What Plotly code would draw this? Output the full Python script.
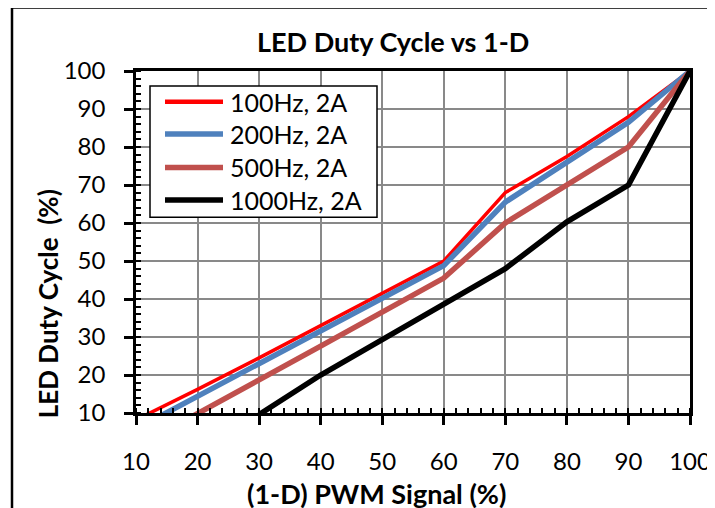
import plotly.graph_objects as go

# ---- data ----
pwm_signal = [10, 20, 30, 40, 50, 60, 70, 80, 90, 100]
duty_100hz = [8.2, 16.2, 24.5, 33.0, 41.5, 50.0, 68.0, 77.5, 88.0, 100]
duty_200hz = [5.8, 14.4, 23.0, 31.6, 40.2, 48.8, 65.5, 76.0, 86.5, 100]
duty_500hz = [1.0, 9.7, 18.7, 27.6, 36.5, 45.5, 60.0, 70.0, 80.0, 100]
duty_1000hz = [None, None, 9.6, 20.0, 29.3, 38.7, 48.0, 60.3, 70.0, 100]

series_names = ["100Hz, 2A", "200Hz, 2A", "500Hz, 2A", "1000Hz, 2A"]
series_values = [duty_100hz, duty_200hz, duty_500hz, duty_1000hz]
series_colors = ["#FF0000", "#4F81BD", "#C0504D", "#000000"]
series_widths = [3.5, 5.5, 5.5, 5.5]

x_ticks = [10, 20, 30, 40, 50, 60, 70, 80, 90, 100]
y_ticks = [10, 20, 30, 40, 50, 60, 70, 80, 90, 100]

# ---- layout geometry ----
# page body has an 8px default margin, so the figure starts at screen (8, 8)
OFF = 8
W, H = 715 - OFF, 508 - OFF
# plot area in screen pixels
SL, SR, ST, SB = 136, 690, 71, 412.7
L, R, T, B = SL - OFF, SR - OFF, ST - OFF, SB - OFF


def xp(px):
    """screen x pixel -> paper"""
    return (px - SL) / (SR - SL)


def yp(py):
    """screen y pixel -> paper"""
    return (SB - py) / (SB - ST)


FONT = "Lato"

fig = go.Figure()
for name, vals, col, lw in zip(series_names, series_values, series_colors, series_widths):
    fig.add_trace(go.Scatter(x=pwm_signal, y=vals, mode="lines", name=name,
                             line=dict(color=col, width=lw), showlegend=False))

axis_common = dict(
    automargin=False,
    showline=True, linecolor="black", linewidth=2.5, mirror=True,
    showgrid=True, gridcolor="#898989", gridwidth=2,
    ticks="outside", ticklen=9, tickwidth=2.5, tickcolor="black",
    tickfont=dict(family=FONT, size=24, color="black"),
    zeroline=False,
    minor=dict(ticks="inside", ticklen=5, tickwidth=1.5, tickcolor="black",
               dtick=2, showgrid=False),
)

fig.update_layout(
    width=W, height=H,
    margin=dict(l=L, r=W - R, t=T, b=H - B),
    paper_bgcolor="white", plot_bgcolor="white",
    showlegend=False,
    xaxis=dict(range=[10, 100], tickvals=x_ticks, ticklabelstandoff=16, **axis_common),
    yaxis=dict(range=[10, 100], tickvals=y_ticks, ticklabelstandoff=14, **axis_common),
)

shapes = []
annotations = []

# chart outer border (partly outside view)
shapes.append(dict(type="rect", xref="paper", yref="paper",
                   x0=xp(12), x1=xp(900), y0=yp(700), y1=yp(7.5),
                   line=dict(color="black", width=2.5), fillcolor="rgba(0,0,0,0)",
                   layer="below"))

# title and axis titles
annotations.append(dict(text="<b>LED Duty Cycle vs 1-D</b>", xref="paper", yref="paper",
                        x=xp(393), y=yp(42), xanchor="center", yanchor="middle",
                        showarrow=False, font=dict(family=FONT, size=27, color="black")))
annotations.append(dict(text="<b>(1-D) PWM Signal (%)</b>", xref="paper", yref="paper",
                        x=xp(376.5), y=yp(493), xanchor="center", yanchor="middle",
                        showarrow=False, font=dict(family=FONT, size=27, color="black")))
annotations.append(dict(text="<b>LED Duty Cycle  (%)</b>", xref="paper", yref="paper",
                        x=xp(48), y=yp(304), xanchor="center", yanchor="middle",
                        textangle=-90,
                        showarrow=False, font=dict(family=FONT, size=26, color="black")))

# legend box
shapes.append(dict(type="rect", xref="paper", yref="paper",
                   x0=xp(150), x1=xp(377), y0=yp(217), y1=yp(86),
                   line=dict(color="black", width=1.5), fillcolor="white", layer="above"))
row_y = [101.7, 134.0, 167.3, 200.0]
for name, col, lw, ry in zip(series_names, series_colors, series_widths, row_y):
    shapes.append(dict(type="line", xref="paper", yref="paper",
                       x0=xp(165), x1=xp(223), y0=yp(ry), y1=yp(ry),
                       line=dict(color=col, width=max(lw, 4.5)), layer="above"))
    annotations.append(dict(text=name, xref="paper", yref="paper",
                            x=xp(228), y=yp(ry), xanchor="left", yanchor="middle",
                            showarrow=False, font=dict(family=FONT, size=25, color="black")))

fig.update_layout(shapes=shapes, annotations=annotations)
fig.write_html("out.html")
